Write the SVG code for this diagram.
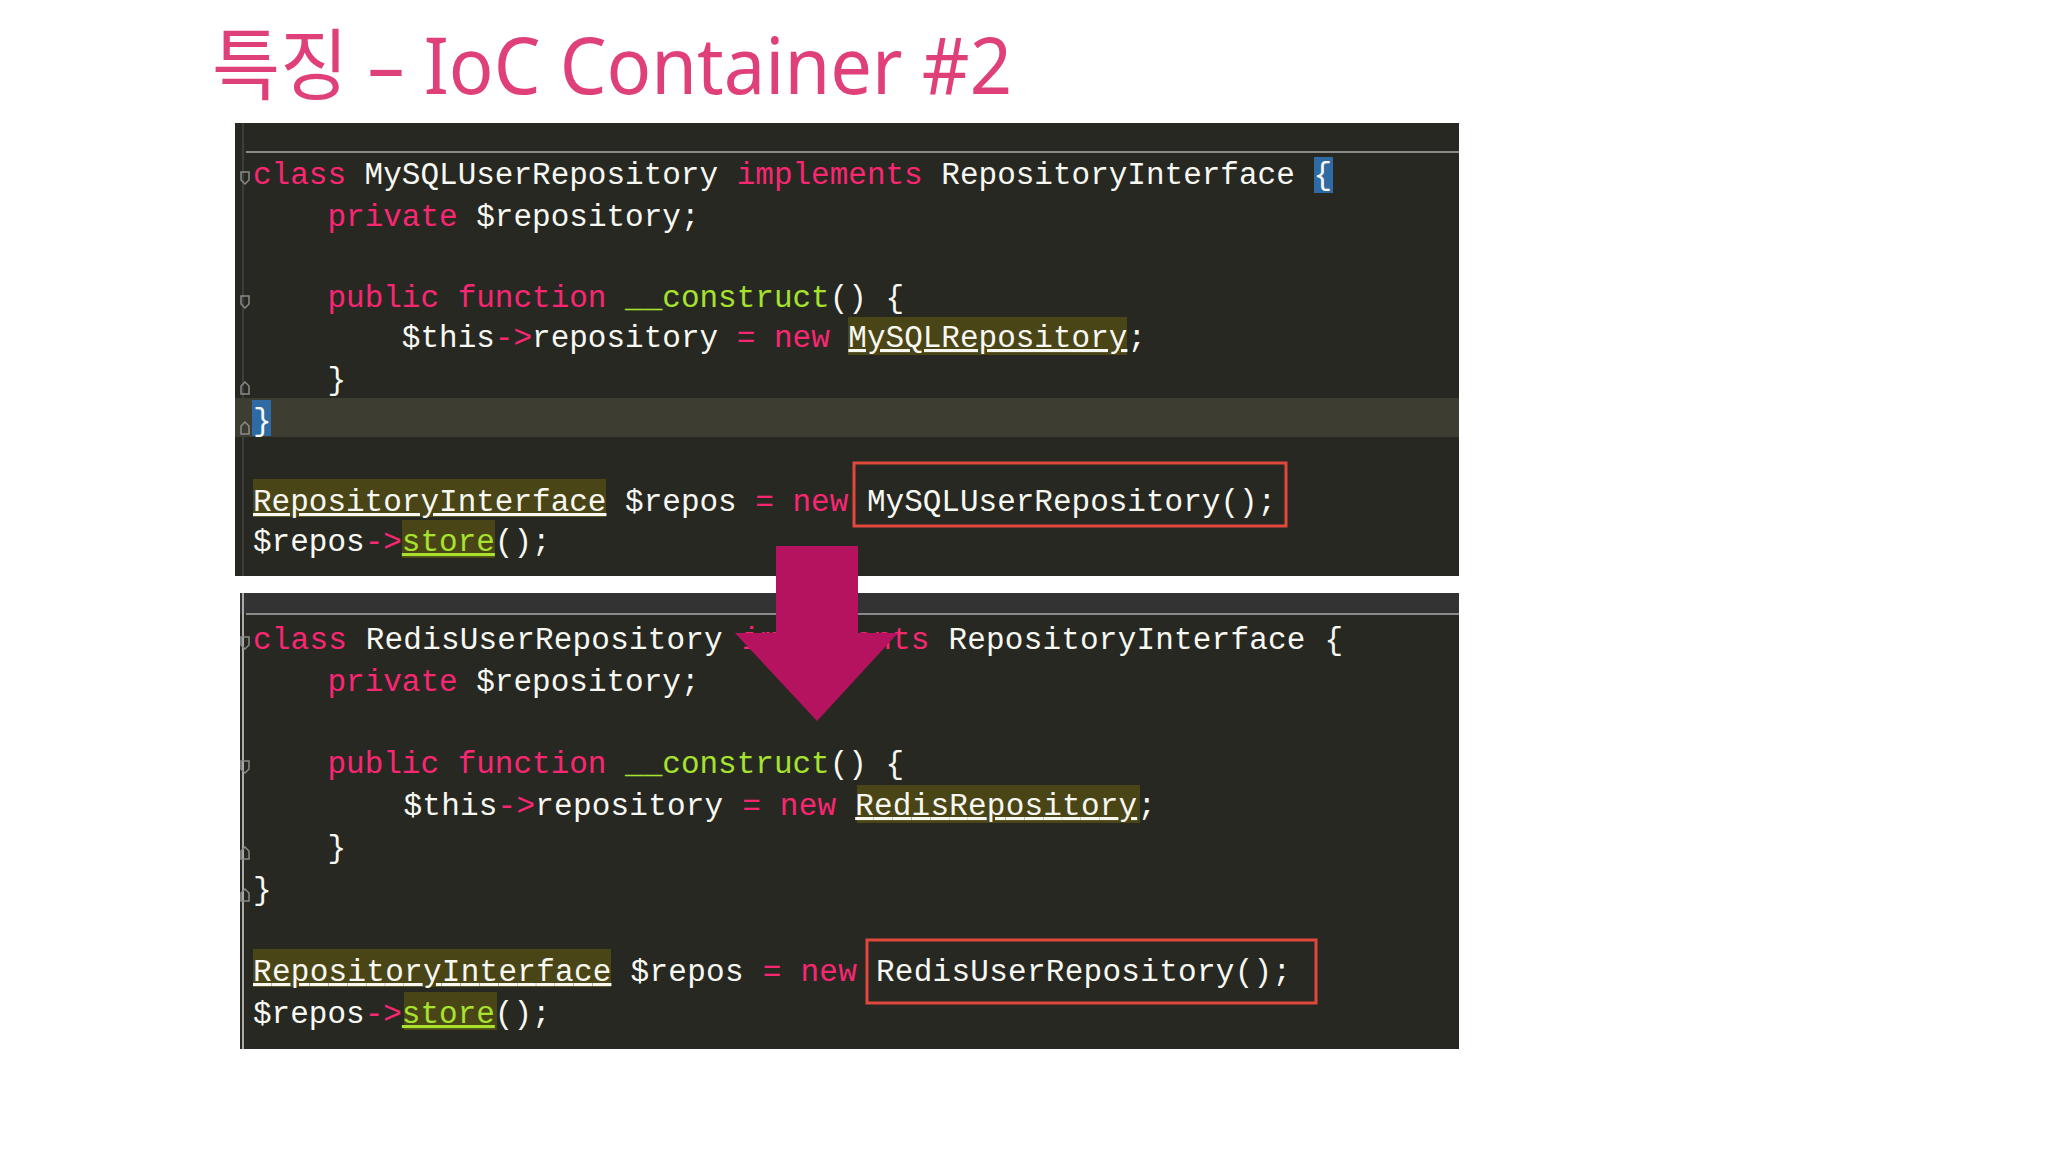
<svg xmlns="http://www.w3.org/2000/svg" width="2048" height="1152" viewBox="0 0 2048 1152">
<style>
.c{font-family:"Liberation Mono","DejaVu Sans Mono",monospace;font-size:31px;fill:#f8f8f2;white-space:pre}
.k{fill:#f92672}.f{fill:#a6e22e}.u{text-decoration:underline}
.hl{fill:#4a4517}.box{fill:none;stroke:#e0483c;stroke-width:3}
.fold{fill:none;stroke:#8a8a8a;stroke-width:1.5}
</style>
<rect width="2048" height="1152" fill="#fff"/>
<text x="212" y="94" font-family="'Noto Sans','Noto Sans CJK KR',sans-serif" font-size="78" fill="#e0407a" textLength="800" lengthAdjust="spacingAndGlyphs">특징 – IoC Container #2</text>
<g id="panel1">
<rect x="235" y="123" width="1224" height="453" fill="#272822"/>
<line x1="246" y1="152" x2="1459" y2="152" stroke="#8a8a8a" stroke-width="2"/>
<line x1="243" y1="123" x2="243" y2="576" stroke="#555" stroke-width="1"/>
<rect x="235" y="398" width="1224" height="39" fill="#3e3d32"/>
<rect x="1314" y="157" width="19" height="36" fill="#2e6aa3"/>
<rect x="252" y="400" width="19" height="36" fill="#2e6aa3"/>
<rect x="848" y="317" width="279" height="38" class="hl"/>
<rect x="253" y="479" width="353" height="38" class="hl"/>
<rect x="402" y="520" width="93" height="38" class="hl"/>
<path class="fold" d="M241 172h8v8l-4 4-4-4zM241 296h8v8l-4 4-4-4zM241 386l4-4 4 4v8h-8zM241 426l4-4 4 4v8h-8z"/>
<text class="c" x="253" y="184"><tspan class="k">class</tspan> MySQLUserRepository <tspan class="k">implements</tspan> RepositoryInterface {</text>
<text class="c" x="253" y="226">    <tspan class="k">private</tspan> $repository;</text>
<text class="c" x="253" y="307">    <tspan class="k">public function</tspan> <tspan class="f">__construct</tspan>() {</text>
<text class="c" x="253" y="347">        $this<tspan class="k">-&gt;</tspan>repository <tspan class="k">=</tspan> <tspan class="k">new</tspan> <tspan class="u">MySQLRepository</tspan>;</text>
<text class="c" x="253" y="389">    }</text>
<text class="c" x="253" y="430">}</text>
<text class="c" x="253" y="511"><tspan class="u">RepositoryInterface</tspan> $repos <tspan class="k">=</tspan> <tspan class="k">new</tspan> MySQLUserRepository();</text>
<text class="c" x="253" y="551">$repos<tspan class="k">-&gt;</tspan><tspan class="f u">store</tspan>();</text>
<rect class="box" x="854" y="463" width="432" height="63"/>
</g>
<g id="panel2">
<rect x="240" y="593" width="1219" height="456" fill="#272822"/>
<rect x="240" y="593" width="1219" height="21" fill="#333"/>
<line x1="246" y1="614" x2="1459" y2="614" stroke="#8a8a8a" stroke-width="2"/>
<line x1="243" y1="593" x2="243" y2="1049" stroke="#aaa" stroke-width="2"/>
<rect x="857" y="785" width="283" height="38" class="hl"/>
<rect x="253" y="949" width="358" height="38" class="hl"/>
<rect x="404" y="992" width="93" height="38" class="hl"/>
<path class="fold" d="M241 637h8v8l-4 4-4-4zM241 761h8v8l-4 4-4-4zM241 851l4-4 4 4v8h-8zM241 893l4-4 4 4v8h-8z"/>
<text class="c" x="253" y="649" textLength="1090" lengthAdjust="spacing"><tspan class="k">class</tspan> RedisUserRepository <tspan class="k">implements</tspan> RepositoryInterface {</text>
<text class="c" x="253" y="691">    <tspan class="k">private</tspan> $repository;</text>
<text class="c" x="253" y="773">    <tspan class="k">public function</tspan> <tspan class="f">__construct</tspan>() {</text>
<text class="c" x="253" y="815" textLength="903" lengthAdjust="spacing">        $this<tspan class="k">-&gt;</tspan>repository <tspan class="k">=</tspan> <tspan class="k">new</tspan> <tspan class="u">RedisRepository</tspan>;</text>
<text class="c" x="253" y="857">    }</text>
<text class="c" x="253" y="899">}</text>
<text class="c" x="253" y="981" textLength="1038" lengthAdjust="spacing"><tspan class="u">RepositoryInterface</tspan> $repos <tspan class="k">=</tspan> <tspan class="k">new</tspan> RedisUserRepository();</text>
<text class="c" x="253" y="1023">$repos<tspan class="k">-&gt;</tspan><tspan class="f u">store</tspan>();</text>
<rect class="box" x="867" y="940" width="449" height="63"/>
</g>
<g id="connectors">
<polygon points="776,546 858,546 858,633 898,633 817,721 735,633 776,633" fill="#b5135f"/>
</g>
</svg>
